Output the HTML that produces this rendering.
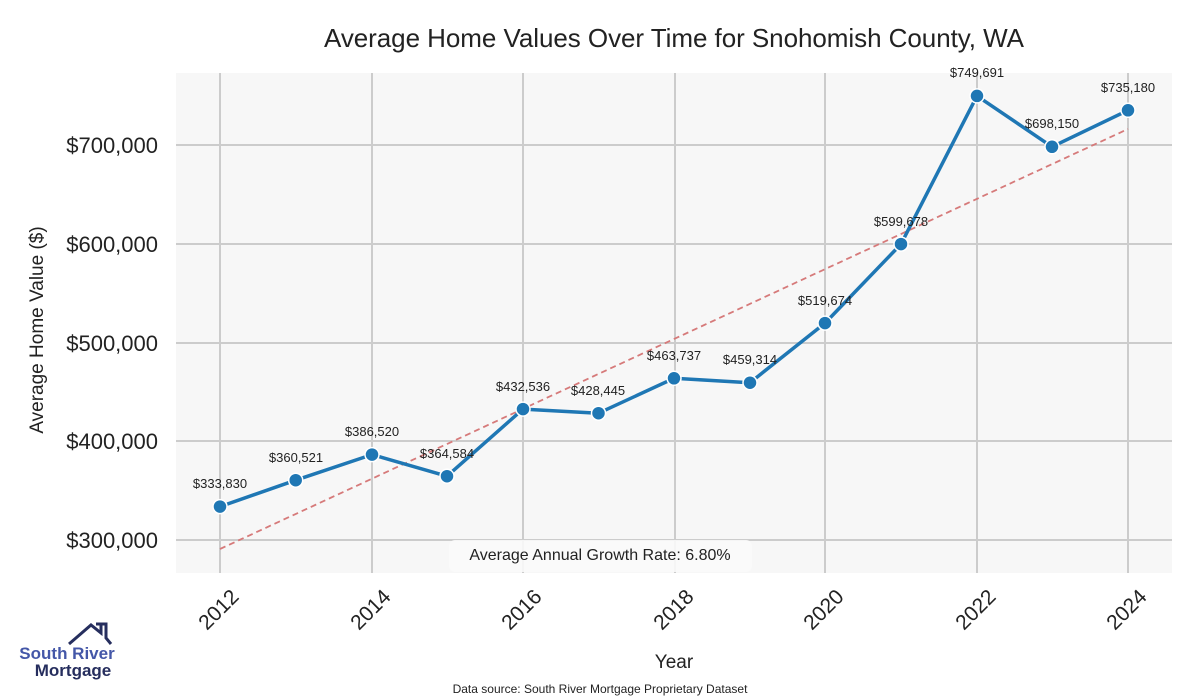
<!DOCTYPE html>
<html><head><meta charset="utf-8"><style>body{margin:0;background:#fff}svg{display:block}</style></head><body>
<svg width="1200" height="700" xmlns="http://www.w3.org/2000/svg" font-family="Liberation Sans, sans-serif">
<rect x="176" y="73" width="996" height="500" fill="#f7f7f7"/>
<g stroke="#cccccc" stroke-width="2">
<line x1="220" y1="73" x2="220" y2="573"/><line x1="372" y1="73" x2="372" y2="573"/><line x1="523" y1="73" x2="523" y2="573"/><line x1="675" y1="73" x2="675" y2="573"/><line x1="825" y1="73" x2="825" y2="573"/><line x1="977" y1="73" x2="977" y2="573"/><line x1="1128" y1="73" x2="1128" y2="573"/>
<line x1="176" y1="145" x2="1172" y2="145"/><line x1="176" y1="244" x2="1172" y2="244"/><line x1="176" y1="343" x2="1172" y2="343"/><line x1="176" y1="441" x2="1172" y2="441"/><line x1="176" y1="540" x2="1172" y2="540"/>
</g>
<text x="674" y="47" font-size="26" text-anchor="middle" fill="#222" textLength="700">Average Home Values Over Time for Snohomish County, WA</text>
<g font-size="22" fill="#222" text-anchor="end">
<text x="158" y="153">$700,000</text><text x="158" y="252">$600,000</text><text x="158" y="351">$500,000</text><text x="158" y="449">$400,000</text><text x="158" y="548">$300,000</text>
</g>
<text transform="translate(43,330) rotate(-90)" font-size="19" text-anchor="middle" fill="#222">Average Home Value ($)</text>
<g font-size="21" fill="#222" text-anchor="end">
<text transform="translate(240,598) rotate(-45)">2012</text><text transform="translate(392,598) rotate(-45)">2014</text><text transform="translate(543,598) rotate(-45)">2016</text><text transform="translate(695,598) rotate(-45)">2018</text><text transform="translate(845,598) rotate(-45)">2020</text><text transform="translate(997,598) rotate(-45)">2022</text><text transform="translate(1148,598) rotate(-45)">2024</text>
</g>
<text x="674" y="668" font-size="19" text-anchor="middle" fill="#222">Year</text>
<text x="600" y="693" font-size="12" text-anchor="middle" fill="#222">Data source: South River Mortgage Proprietary Dataset</text>
<line x1="220" y1="549" x2="1128" y2="129" stroke="#d67a7a" stroke-width="1.8" stroke-dasharray="6,4"/>
<rect x="449" y="540" width="303" height="32" rx="6" fill="#fafafa" opacity="0.9"/>
<text x="600" y="560" font-size="16" text-anchor="middle" fill="#222">Average Annual Growth Rate: 6.80%</text>
<polyline fill="none" stroke="#1f77b4" stroke-width="3.5" stroke-linejoin="round" points="220,506.6 295.7,480.2 372,454.6 447,476.2 523,409.1 598.5,413.2 674,378.3 750,382.7 825,323.1 901,244.1 977,95.9 1052,146.8 1128,110.3"/>
<g fill="#1f77b4" stroke="#fff" stroke-width="1.5">
<circle cx="220" cy="506.6" r="7"/><circle cx="295.7" cy="480.2" r="7"/><circle cx="372" cy="454.6" r="7"/><circle cx="447" cy="476.2" r="7"/><circle cx="523" cy="409.1" r="7"/><circle cx="598.5" cy="413.2" r="7"/><circle cx="674" cy="378.3" r="7"/><circle cx="750" cy="382.7" r="7"/><circle cx="825" cy="323.1" r="7"/><circle cx="901" cy="244.1" r="7"/><circle cx="977" cy="95.9" r="7"/><circle cx="1052" cy="146.8" r="7"/><circle cx="1128" cy="110.3" r="7"/>
</g>
<g font-size="13" fill="#222" text-anchor="middle">
<text x="220" y="488">$333,830</text><text x="296" y="462">$360,521</text><text x="372" y="436">$386,520</text><text x="447" y="458">$364,584</text><text x="523" y="391">$432,536</text><text x="598" y="395">$428,445</text><text x="674" y="360">$463,737</text><text x="750" y="364">$459,314</text><text x="825" y="305">$519,674</text><text x="901" y="226">$599,678</text><text x="977" y="77">$749,691</text><text x="1052" y="128">$698,150</text><text x="1128" y="92">$735,180</text>
</g>
<polyline fill="none" stroke="#262e5e" stroke-width="3" points="69,644 91,625 101,633 101,624 96,624 106,624 106,638 111,644"/>
<text x="67" y="659" font-size="17" font-weight="bold" fill="#4457a8" text-anchor="middle">South River</text>
<text x="73" y="676" font-size="17" font-weight="bold" fill="#262e5e" text-anchor="middle">Mortgage</text>
</svg>
</body></html>
